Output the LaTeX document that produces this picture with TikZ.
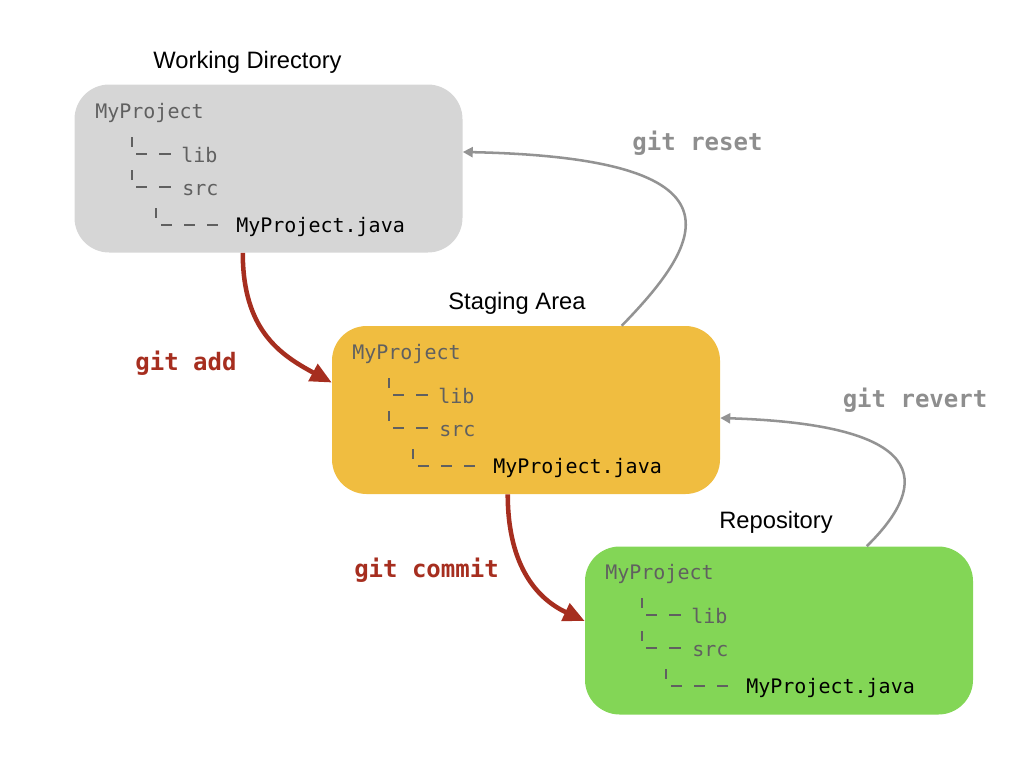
\documentclass[tikz,border=0pt]{standalone}
\usepackage{fontspec}
\setmainfont{Liberation Sans}
\newfontfamily\monofont{DejaVu Sans Mono}
\usetikzlibrary{arrows.meta}
\definecolor{boxgray}{HTML}{D6D6D6}
\definecolor{boxyellow}{HTML}{F0BD40}
\definecolor{boxgreen}{HTML}{83D656}
\definecolor{gitred}{HTML}{A62E1F}
\definecolor{arrgray}{HTML}{939393}
\definecolor{lblgray}{HTML}{8E8E8E}
\definecolor{treegray}{HTML}{606060}
\begin{document}
\begin{tikzpicture}[x=0.75pt,y=-0.75pt,
  box/.style={rounded corners=26pt, minimum width=291pt, minimum height=126pt, inner sep=0pt, draw=none},
  title/.style={font=\fontsize{17.8}{20}\selectfont, anchor=base, inner sep=0pt},
  treetxt/.style={font=\monofont\fontsize{15}{18}\selectfont, text=treegray, anchor=base west, inner sep=0pt},
  treeln/.style={draw=treegray, line width=1.3pt},
  cmd/.style={font=\monofont\bfseries\fontsize{18}{22}\selectfont, anchor=base, inner sep=0pt},
  redarrow/.style={draw=gitred, line width=3.4pt, -{Triangle[length=16pt,width=14pt]}},
  grayarrow/.style={draw=arrgray, line width=1.9pt, -{Triangle[length=7.5pt,width=7.5pt]}},
  tree/.pic={
    \node[treetxt] (-root) at (95,118) {MyProject};
    \draw[treeln] (132,137) -- (132,147);
    \draw[treeln] (136,154) -- (147,154);
    \draw[treeln] (159,154) -- (171,154);
    \node[treetxt] (-lib) at (181,162) {lib};
    \draw[treeln] (132,170) -- (132,180);
    \draw[treeln] (136,187) -- (147,187);
    \draw[treeln] (159,187) -- (171,187);
    \node[treetxt] (-src) at (182,195) {src};
    \draw[treeln] (156,208) -- (156,218);
    \draw[treeln] (161,225) -- (172,225);
    \draw[treeln] (184,225) -- (195,225);
    \draw[treeln] (207,225) -- (218,225);
    \node[treetxt, text=black] (-file) at (236,232) {MyProject.java};
  }]
\useasboundingbox (0,0) rectangle (1024,768);

% boxes
\node[box, fill=boxgray] (wd) at (268.5,168.5) {};
\node[box, fill=boxyellow] (sa) at (526,410) {};
\node[box, fill=boxgreen] (repo) at (779,630.5) {};

% titles
\node[title] (twd) at (247.5,68) {Working Directory};
\node[title] (tsa) at (517,309) {Staging Area};
\node[title] (trepo) at (776,528) {Repository};

% trees
\pic (t1) at (0,0) {tree};
\pic (t2) at (257,241) {tree};
\pic (t3) at (510,461) {tree};

% arrows
\draw[redarrow] ([xshift=126.4pt]wd.south west) .. controls +(0,77) and +(-52,-28) .. ([yshift=20.6pt]sa.west);
\draw[redarrow] ([xshift=132pt]sa.south west) .. controls +(0,75) and +(-45,-21) .. ([yshift=7.1pt]repo.west);
\draw[grayarrow] ([xshift=217.5pt]sa.north west) .. controls +(83,-85) and +(289,6) .. ([yshift=12.4pt]wd.east);
\draw[grayarrow] ([xshift=211.5pt]repo.north west) .. controls +(55,-54) and +(226,7) .. ([yshift=-6pt]sa.east);

% labels
\node[cmd, text=gitred] (ladd) at (186,370) {git add};
\node[cmd, text=gitred] (lcommit) at (426.5,577) {git commit};
\node[cmd, text=lblgray] (lreset) at (697.5,150) {git reset};
\node[cmd, text=lblgray] (lrevert) at (915,407) {git revert};
\end{tikzpicture}
\end{document}
